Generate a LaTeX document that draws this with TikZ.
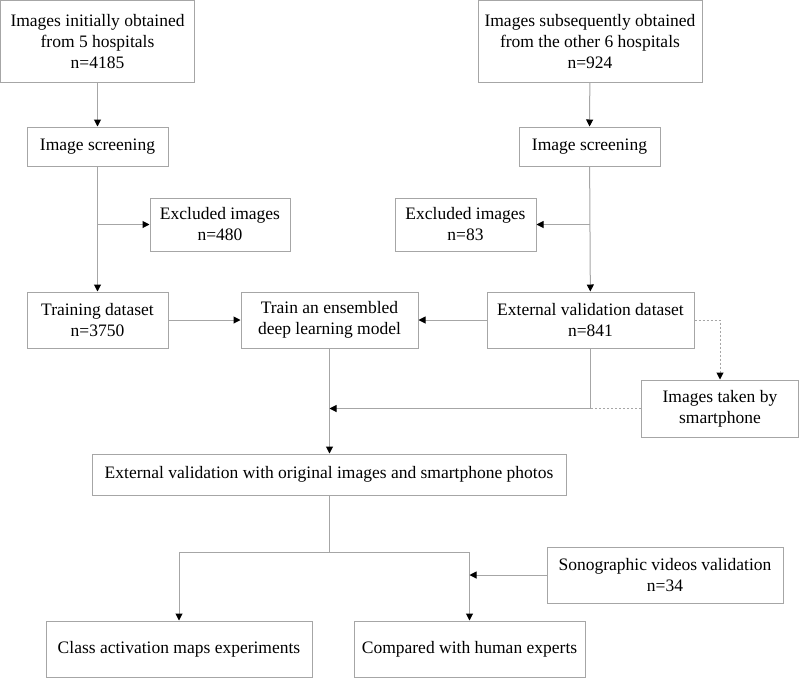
\documentclass[tikz,border=0pt]{standalone}
\usepackage{fontspec}
\setmainfont{Liberation Serif}
\usetikzlibrary{arrows.meta}
\definecolor{linegray}{HTML}{A6A6A6}
\tikzset{
  box/.style={draw=linegray,line width=1pt,align=center,inner sep=0pt,
    font=\fontsize{17.5}{21}\selectfont},
  line/.style={draw=linegray,line width=1pt},
  conn/.style={line,-{Triangle[color=black,length=7pt,width=7pt]}},
  dashconn/.style={conn,dash pattern=on 2pt off 2pt}
}
\begin{document}
\begin{tikzpicture}[x=1pt,y=-1pt]
		\useasboundingbox (0,0) rectangle (800,678);
		% sources
		\node[box,minimum width=194,minimum height=82] (src1) at (97.5,41.5) {Images initially obtained\\from 5 hospitals\\n=4185};
		\node[box,minimum width=224,minimum height=82] (src2) at (590,41.5) {Images subsequently obtained\\from the other 6 hospitals\\n=924};
		% screening
		\node[box,minimum width=141,minimum height=39] (scr1) at (97.5,146.5) {Image screening};
		\node[box,minimum width=141,minimum height=39] (scr2) at (589.5,146.5) {Image screening};
		\node[box,minimum width=140,minimum height=53] (exc1) at (220,224.5) {Excluded images\\n=480};
		\node[box,minimum width=141,minimum height=53] (exc2) at (465.5,224.5) {Excluded images\\n=83};
		% datasets and model
		\node[box,minimum width=141,minimum height=56] (train) at (97.5,320) {Training dataset\\n=3750};
		\node[box,minimum width=177,minimum height=56] (model) at (329.5,320) {Train an ensembled\\deep learning model};
		\node[box,minimum width=207,minimum height=56] (ext) at (590.5,320) {External validation dataset\\n=841};
		\node[box,minimum width=157,minimum height=57] (phone) at (720,408.5) {Images taken by\\smartphone};
		\node[box,minimum width=474,minimum height=41] (extval) at (329,474.5) {External validation with original images and smartphone photos};
		% experiments
		\node[box,minimum width=236,minimum height=56] (sono) at (665,575) {Sonographic videos validation\\n=34};
		\node[box,minimum width=266,minimum height=56] (cam) at (179,649) {Class activation maps experiments};
		\node[box,minimum width=231,minimum height=56] (human) at (469.5,649) {Compared with human experts};
		\coordinate (join) at (model.south |- phone.west);
		\coordinate (split) at (extval.south |- 0,552);
		\draw[conn] (src1) -- (scr1);
		\draw[conn] (scr1) -- (train);
		\draw[conn] (scr1.south |- exc1.west) -- (exc1.west);
		\draw[conn] (src2) -- (scr2);
		\draw[conn] (scr2) -- (ext);
		\draw[conn] (scr2.south |- exc2.east) -- (exc2.east);
		\draw[conn] (train) -- (model);
		\draw[conn] (ext) -- (model);
		\draw[conn] (model.south) -- (model.south |- extval.north);
		\draw[dashconn] (ext.east) -| (phone.north);
		\draw[line,dash pattern=on 2pt off 2pt] (phone.west) -- (ext.south |- phone.west);
		\draw[conn] (ext.south) |- (join);
		\draw[line] (extval.south) -- (split);
		\draw[conn] (split) -| (cam.north);
		\draw[conn] (split) -| (human.north);
		\draw[conn] (sono.west) -- (sono.west -| human.north);
\end{tikzpicture}
\end{document}
